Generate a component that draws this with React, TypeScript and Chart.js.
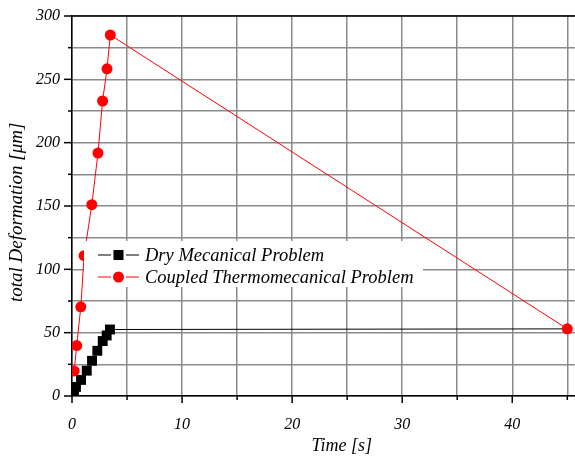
import React, { useEffect, useRef } from "react";
import { Chart, registerables } from "chart.js";

Chart.register(...registerables);

const timeDry = [0.18, 0.36, 0.82, 1.34, 1.82, 2.3, 2.79, 3.15, 3.45, 45];
const deformDry = [2.3, 7.2, 12.7, 20, 27.8, 35.7, 43.4, 47.8, 52.5, 53];
const timeCoupled = [0.2, 0.43, 0.8, 1.1, 1.8, 2.36, 2.78, 3.18, 3.48, 45];
const deformCoupled = [19.8, 39.8, 70.4, 110.8, 151, 191.8, 232.9, 258.3, 285, 53];

const xTickValues = [0, 5, 10, 15, 20, 25, 30, 35, 40, 45];
const yTickValues = [0, 25, 50, 75, 100, 125, 150, 175, 200, 225, 250, 275, 300];

const seriesNames = ["Dry Mecanical Problem", "Coupled Thermomecanical Problem"];
const seriesColors = ["#000000", "#ff0000"];
const xTitle = "Time [s]";
const yTitle = "total Deformation [μm]";

const FONT = "'Liberation Serif', 'Times New Roman', serif";
const GRID = "#8a8a8a";

const decorPlugin = {
  id: "decor",
  afterDatasetsDraw(chart: any) {
    const { ctx, chartArea: ca, scales } = chart;
    ctx.save();
    // top border
    ctx.strokeStyle = "#000";
    ctx.lineWidth = 1.5;
    ctx.beginPath();
    ctx.moveTo(ca.left, ca.top);
    ctx.lineTo(ca.right, ca.top);
    ctx.stroke();
    // tick marks
    xTickValues.forEach((v) => {
      const px = scales.x.getPixelForValue(v);
      const len = v % 10 === 0 ? 7 : 4;
      ctx.beginPath();
      ctx.moveTo(px, ca.bottom);
      ctx.lineTo(px, ca.bottom + len);
      ctx.stroke();
    });
    yTickValues.forEach((v) => {
      const py = scales.y.getPixelForValue(v);
      const len = v % 50 === 0 ? 8 : 4;
      ctx.beginPath();
      ctx.moveTo(ca.left - len, py);
      ctx.lineTo(ca.left, py);
      ctx.stroke();
    });
    // axis titles
    ctx.fillStyle = "#000";
    ctx.textAlign = "center";
    ctx.textBaseline = "middle";
    ctx.font = `italic 18px ${FONT}`;
    ctx.fillText(xTitle, scales.x.getPixelForValue(24.5), ca.bottom + 50);
    ctx.save();
    ctx.translate(17, scales.y.getPixelForValue(145));
    ctx.rotate(-Math.PI / 2);
    ctx.font = `italic 19px ${FONT}`;
    ctx.fillText(yTitle, 0, 0);
    ctx.restore();
    // legend box
    const x0 = ca.left + 12;
    const y0 = ca.top + 225;
    const w = 339;
    const h = 46;
    ctx.fillStyle = "#ffffff";
    ctx.fillRect(x0, y0, w, h);
    seriesNames.forEach((name, i) => {
      const cy = y0 + 14 + i * 22;
      const color = seriesColors[i];
      ctx.strokeStyle = color;
      ctx.fillStyle = color;
      ctx.lineWidth = 1;
      ctx.beginPath();
      ctx.moveTo(x0 + 14, cy);
      ctx.lineTo(x0 + 27, cy);
      ctx.moveTo(x0 + 42, cy);
      ctx.lineTo(x0 + 55, cy);
      ctx.stroke();
      const mx = x0 + 34.5;
      if (i === 0) {
        ctx.fillRect(mx - 5, cy - 5, 10, 10);
      } else {
        ctx.beginPath();
        ctx.arc(mx, cy, 5.5, 0, Math.PI * 2);
        ctx.fill();
      }
      ctx.fillStyle = "#000";
      ctx.font = `italic 18.5px ${FONT}`;
      ctx.textBaseline = "middle";
      ctx.textAlign = "left";
      ctx.fillText(name, x0 + 61, cy + 1);
    });
    ctx.restore();
  },
};

export default function App() {
  const ref = useRef<HTMLCanvasElement | null>(null);
  useEffect(() => {
    if (!ref.current) return;
    const chart = new Chart(ref.current, {
      type: "line",
      data: {
        datasets: [
          {
            label: seriesNames[0],
            data: timeDry.map((t, i) => ({ x: t, y: deformDry[i] })),
            borderColor: seriesColors[0],
            backgroundColor: seriesColors[0],
            borderWidth: 1,
            pointStyle: "rect",
            pointRadius: timeDry.map((t) => (t > 40 ? 0 : 7)),
            pointBorderWidth: 0,
            order: 1,
          },
          {
            label: seriesNames[1],
            data: timeCoupled.map((t, i) => ({ x: t, y: deformCoupled[i] })),
            borderColor: seriesColors[1],
            backgroundColor: seriesColors[1],
            borderWidth: 1,
            pointStyle: "circle",
            pointRadius: 5.5,
            pointBorderWidth: 0,
            order: 0,
          },
        ],
      },
      options: {
        animation: false,
        responsive: true,
        maintainAspectRatio: false,
        layout: { padding: { top: 16, right: 0, left: 0, bottom: 0 } },
        plugins: { legend: { display: false }, tooltip: { enabled: false } },
        scales: {
          x: {
            type: "linear",
            min: 0,
            max: 45.7,
            afterBuildTicks: (s: any) => {
              s.ticks = xTickValues.map((v) => ({ value: v }));
            },
            afterFit: (s: any) => {
              s.height = 60;
              s.paddingLeft = 0;
              s.paddingRight = 0;
            },
            grid: { color: GRID, lineWidth: 1.5, drawTicks: false },
            border: { display: true, color: "#000", width: 1.5 },
            ticks: {
              padding: 19,
              maxRotation: 0,
              autoSkip: false,
              color: "#000",
              font: { family: FONT, size: 16, style: "italic" },
              callback: (v: any) => (Number(v) % 10 === 0 ? String(v) : ""),
            },
          },
          y: {
            type: "linear",
            min: 0,
            max: 300,
            afterBuildTicks: (s: any) => {
              s.ticks = yTickValues.map((v) => ({ value: v }));
            },
            afterFit: (s: any) => {
              s.width = 72;
              s.paddingTop = 0;
              s.paddingBottom = 0;
            },
            grid: { color: GRID, lineWidth: 1.5, drawTicks: false },
            border: { display: true, color: "#000", width: 1.5 },
            ticks: {
              padding: 12,
              autoSkip: false,
              color: "#000",
              font: { family: FONT, size: 16, style: "italic" },
              callback: (v: any) => (Number(v) % 50 === 0 ? String(v) : ""),
            },
          },
        },
      },
      plugins: [decorPlugin],
    });
    return () => chart.destroy();
  }, []);
  return (
    <div style={{ position: "fixed", left: 0, top: 0, width: 575, height: 456, overflow: "hidden", background: "#fff" }}>
      <div style={{ position: "absolute", left: 0, top: 0, width: 582, height: 456 }}>
        <canvas ref={ref} />
      </div>
    </div>
  );
}
